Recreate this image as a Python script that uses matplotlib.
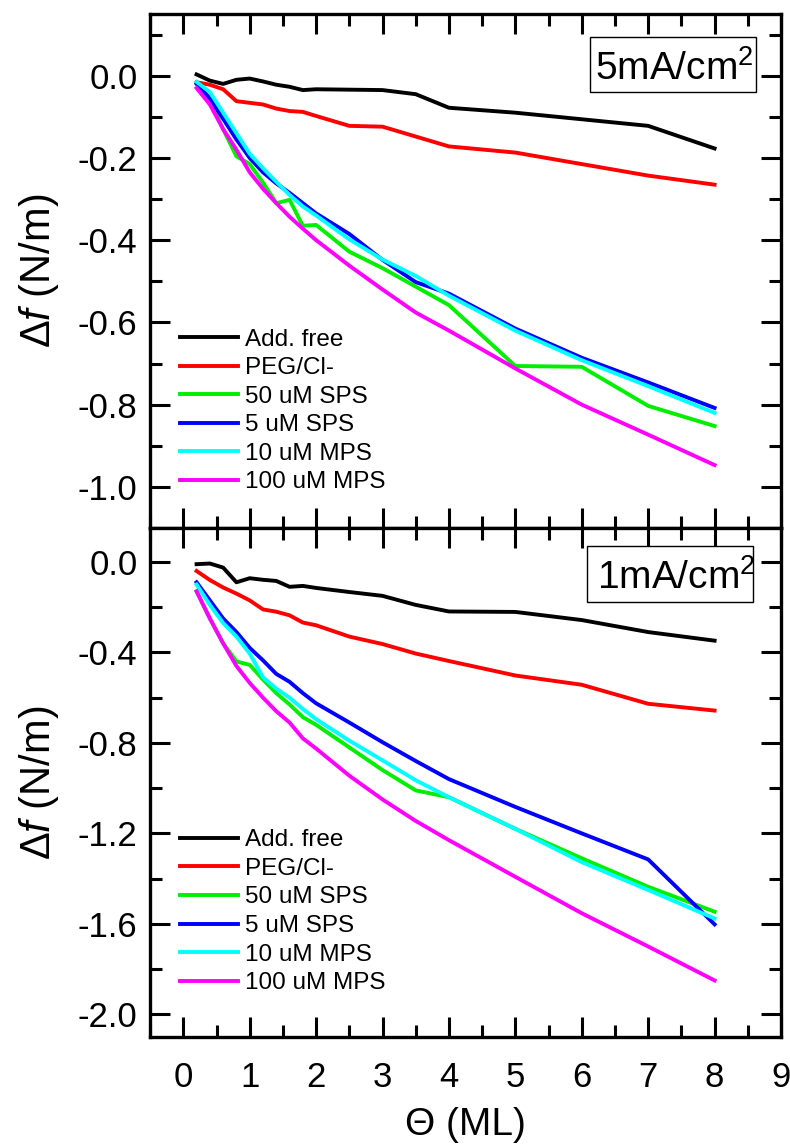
import matplotlib
matplotlib.use("Agg")
import matplotlib.pyplot as plt
from matplotlib.ticker import MultipleLocator
from matplotlib.patches import Rectangle

plt.rcParams['font.family'] = ['Liberation Sans', 'DejaVu Sans']
plt.rcParams['mathtext.fontset'] = 'custom'
plt.rcParams['mathtext.rm'] = 'Liberation Sans'
plt.rcParams['mathtext.it'] = 'Liberation Sans:italic'

# Coverage (monolayers)
theta = [0.2, 0.4, 0.6, 0.8, 1.0, 1.2, 1.4, 1.6, 1.8, 2.0, 2.5, 3.0, 3.5, 4.0, 5.0, 6.0, 7.0, 8.0]

labels = ["Add. free", "PEG/Cl-", "50 uM SPS", "5 uM SPS", "10 uM MPS", "100 uM MPS"]
colors = ["#000000", "#FF0000", "#00EE00", "#0000FF", "#00FFFF", "#FF00FF"]

# Surface stress change at 5 mA/cm^2
add_free_5 = [0.003, -0.012, -0.020, -0.010, -0.007, -0.014, -0.022, -0.027, -0.035, -0.033,
              -0.034, -0.035, -0.045, -0.078, -0.090, -0.106, -0.122, -0.177]
peg_cl_5 = [-0.016, -0.022, -0.033, -0.062, -0.066, -0.070, -0.080, -0.086, -0.088, -0.098,
            -0.122, -0.124, -0.148, -0.172, -0.187, -0.215, -0.243, -0.265]
sps50_5 = [-0.016, -0.060, -0.130, -0.196, -0.215, -0.260, -0.310, -0.302, -0.365, -0.363,
           -0.428, -0.468, -0.513, -0.558, -0.706, -0.708, -0.803, -0.852]
sps5_5 = [-0.020, -0.055, -0.105, -0.155, -0.200, -0.235, -0.262, -0.285, -0.310, -0.335,
          -0.385, -0.448, -0.502, -0.530, -0.615, -0.686, -0.746, -0.808]
mps10_5 = [-0.015, -0.040, -0.090, -0.140, -0.190, -0.225, -0.258, -0.290, -0.318, -0.340,
           -0.398, -0.447, -0.487, -0.535, -0.620, -0.692, -0.755, -0.820]
mps100_5 = [-0.030, -0.070, -0.130, -0.180, -0.235, -0.275, -0.310, -0.343, -0.372, -0.400,
            -0.462, -0.520, -0.576, -0.620, -0.712, -0.800, -0.873, -0.947]

# Surface stress change at 1 mA/cm^2
add_free_1 = [-0.010, -0.007, -0.025, -0.090, -0.072, -0.079, -0.084, -0.110, -0.106, -0.115,
              -0.133, -0.150, -0.190, -0.219, -0.221, -0.257, -0.310, -0.348]
peg_cl_1 = [-0.040, -0.080, -0.113, -0.140, -0.170, -0.210, -0.220, -0.236, -0.268, -0.280,
            -0.330, -0.363, -0.405, -0.438, -0.502, -0.543, -0.627, -0.657]
sps50_1 = [-0.130, -0.250, -0.360, -0.440, -0.455, -0.520, -0.580, -0.630, -0.686, -0.720,
           -0.820, -0.920, -1.010, -1.040, -1.180, -1.310, -1.436, -1.546]
sps5_1 = [-0.090, -0.170, -0.250, -0.310, -0.380, -0.435, -0.495, -0.530, -0.580, -0.625,
          -0.710, -0.797, -0.880, -0.960, -1.083, -1.200, -1.315, -1.602]
mps10_1 = [-0.100, -0.190, -0.270, -0.330, -0.405, -0.510, -0.560, -0.600, -0.650, -0.695,
           -0.790, -0.877, -0.965, -1.040, -1.180, -1.327, -1.450, -1.576]
mps100_1 = [-0.130, -0.250, -0.360, -0.460, -0.535, -0.600, -0.660, -0.710, -0.780, -0.825,
            -0.945, -1.050, -1.145, -1.230, -1.392, -1.553, -1.700, -1.850]

panels = [
    dict(series=[add_free_5, peg_cl_5, sps50_5, sps5_5, mps10_5, mps100_5],
         tag="5mA/cm$^2$", ylim=(-1.1, 0.15), minor=0.1,
         yt=[0.0, -0.2, -0.4, -0.6, -0.8, -1.0],
         box=(0.698, 0.848, 0.262, 0.108), txt=(0.705, 0.872), leg=0.388),
    dict(series=[add_free_1, peg_cl_1, sps50_1, sps5_1, mps10_1, mps100_1],
         tag="1mA/cm$^2$", ylim=(-2.1, 0.15), minor=0.2,
         yt=[0.0, -0.4, -0.8, -1.2, -1.6, -2.0],
         box=(0.693, 0.854, 0.263, 0.111), txt=(0.709, 0.880), leg=0.408),
]

fig = plt.figure(figsize=(7.9, 11.48), dpi=100)
gs = fig.add_gridspec(2, 1, left=0.190, right=0.9886, top=0.9878, bottom=0.0967,
                      hspace=0.0, height_ratios=[514, 509])

for i, p in enumerate(panels):
    ax = fig.add_subplot(gs[i])
    for y, c, lab in zip(p['series'], colors, labels):
        ax.plot(theta, y, color=c, lw=2.8, label=lab)
    ax.set_xlim(-0.5, 9)
    ax.set_ylim(*p['ylim'])
    ax.xaxis.set_major_locator(MultipleLocator(1))
    ax.xaxis.set_minor_locator(MultipleLocator(0.5))
    ax.set_yticks(p['yt'])
    ax.set_yticklabels([f"{v:.1f}" if v != 0 else "0.0" for v in p['yt']])
    ax.yaxis.set_minor_locator(MultipleLocator(p['minor']))
    ax.tick_params(which='both', direction='in', top=True, right=True, width=2.2,
                   labelsize=25)
    ax.tick_params(which='major', length=14.5)
    ax.tick_params(which='minor', length=8.5)
    ax.tick_params(axis='y', pad=9)
    ax.tick_params(axis='x', pad=17)
    for sp in ax.spines.values():
        sp.set_linewidth(2.4)
    ax.set_ylabel(r"$\mathit{\Delta f}$ (N/m)", fontsize=30, labelpad=12)
    bx, by, bw, bh = p['box']
    ax.add_patch(Rectangle((bx, by), bw, bh, transform=ax.transAxes, fc='white',
                           ec='black', lw=1.0, zorder=5))
    ax.text(p['txt'][0], p['txt'][1], p['tag'], transform=ax.transAxes, ha='left',
            va='baseline', fontsize=28, zorder=6)
    ax.legend(loc='upper left', bbox_to_anchor=(0.047, p['leg']),
              frameon=False, fontsize=17.5, handlelength=2.4, handletextpad=0.28,
              labelspacing=0.27, borderpad=0.0, borderaxespad=0.0)
    if i == 0:
        ax.tick_params(axis='x', labelbottom=False)
    else:
        ax.set_xlabel("\u0398 (ML)", fontsize=28, labelpad=10)

fig.savefig("out.png", dpi=100)
